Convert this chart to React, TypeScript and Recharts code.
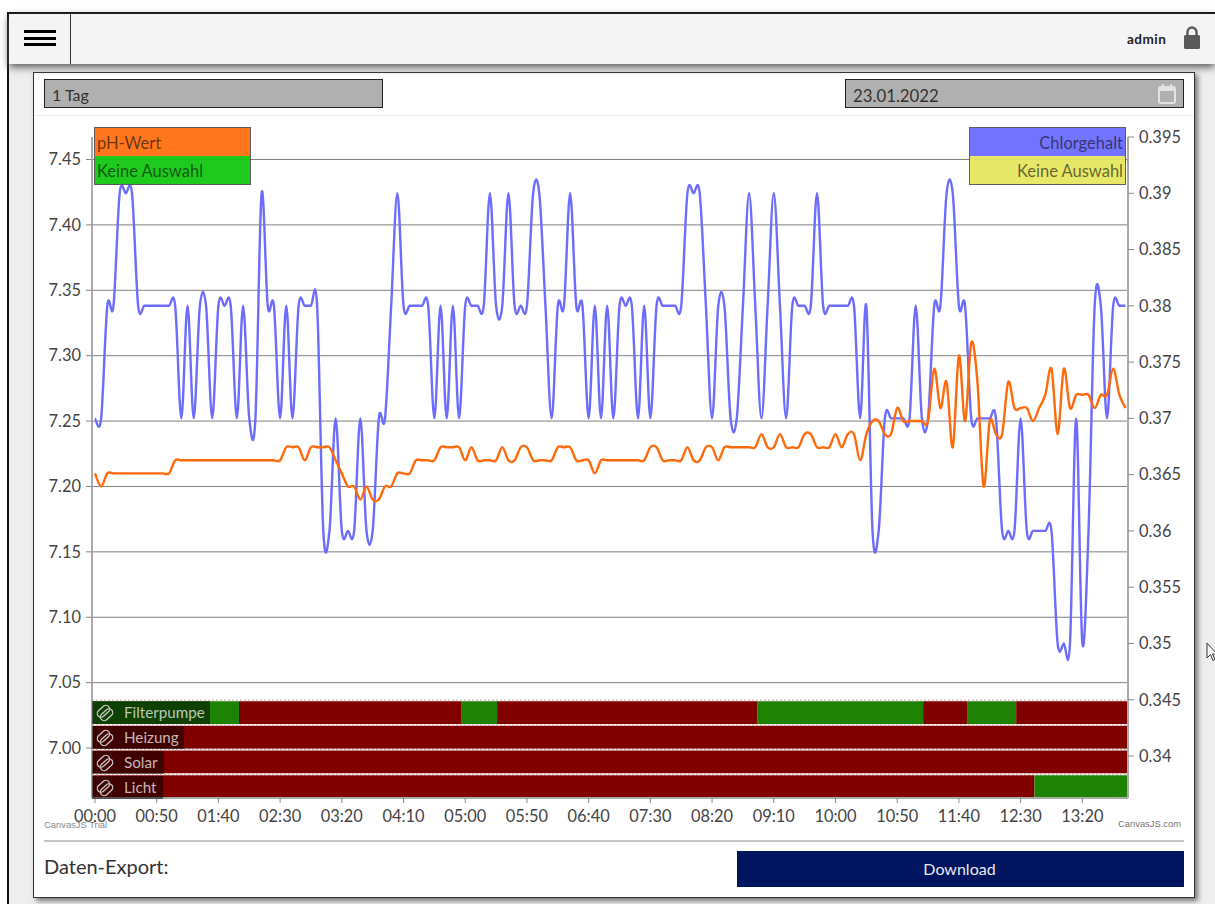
import React from "react";
import {
  ComposedChart,
  Line,
  XAxis,
  YAxis,
  CartesianGrid,
  ReferenceArea,
  ReferenceLine,
} from "recharts";

// readings every 5 minutes, 20 per row
const chlorValues = [
  0.37, 0.37, 0.38, 0.38, 0.39, 0.39, 0.39, 0.38, 0.38, 0.38, 0.38, 0.38, 0.38, 0.38, 0.37, 0.38, 0.37, 0.38, 0.38, 0.37,
  0.38, 0.38, 0.38, 0.37, 0.38, 0.37, 0.37, 0.39, 0.38, 0.38, 0.37, 0.38, 0.37, 0.38, 0.38, 0.38, 0.38, 0.36, 0.36, 0.37,
  0.36, 0.36, 0.36, 0.37, 0.36, 0.36, 0.37, 0.37, 0.38, 0.39, 0.38, 0.38, 0.38, 0.38, 0.38, 0.37, 0.38, 0.37, 0.38, 0.37,
  0.38, 0.38, 0.38, 0.38, 0.39, 0.38, 0.38, 0.39, 0.38, 0.38, 0.38, 0.39, 0.39, 0.38, 0.37, 0.38, 0.38, 0.39, 0.38, 0.38,
  0.37, 0.38, 0.37, 0.38, 0.37, 0.38, 0.38, 0.38, 0.37, 0.38, 0.37, 0.38, 0.38, 0.38, 0.38, 0.38, 0.39, 0.39, 0.39, 0.38,
  0.37, 0.38, 0.38, 0.37, 0.37, 0.38, 0.39, 0.38, 0.37, 0.38, 0.39, 0.38, 0.37, 0.38, 0.38, 0.38, 0.38, 0.39, 0.38, 0.38,
  0.38, 0.38, 0.38, 0.38, 0.37, 0.38, 0.36, 0.36, 0.37, 0.37, 0.37, 0.37, 0.37, 0.38, 0.37, 0.37, 0.38, 0.38, 0.39, 0.39,
  0.38, 0.38, 0.37, 0.37, 0.37, 0.37, 0.37, 0.36, 0.36, 0.36, 0.37, 0.36, 0.36, 0.36, 0.36, 0.36, 0.35, 0.35, 0.35, 0.37,
  0.35, 0.36, 0.38, 0.38, 0.37, 0.38, 0.38, 0.38,
];

const phValues = [
  7.21, 7.2, 7.21, 7.21, 7.21, 7.21, 7.21, 7.21, 7.21, 7.21, 7.21, 7.21, 7.21, 7.22, 7.22, 7.22, 7.22, 7.22, 7.22, 7.22,
  7.22, 7.22, 7.22, 7.22, 7.22, 7.22, 7.22, 7.22, 7.22, 7.22, 7.22, 7.23, 7.23, 7.23, 7.22, 7.23, 7.23, 7.23, 7.23, 7.22,
  7.21, 7.2, 7.2, 7.19, 7.2, 7.19, 7.19, 7.2, 7.2, 7.21, 7.21, 7.21, 7.22, 7.22, 7.22, 7.22, 7.23, 7.23, 7.23, 7.23,
  7.22, 7.23, 7.22, 7.22, 7.22, 7.22, 7.23, 7.22, 7.22, 7.23, 7.23, 7.22, 7.22, 7.22, 7.22, 7.23, 7.23, 7.23, 7.22, 7.22,
  7.22, 7.21, 7.22, 7.22, 7.22, 7.22, 7.22, 7.22, 7.22, 7.22, 7.23, 7.23, 7.22, 7.22, 7.22, 7.22, 7.23, 7.22, 7.22, 7.23,
  7.23, 7.22, 7.23, 7.23, 7.23, 7.23, 7.23, 7.23, 7.24, 7.23, 7.23, 7.24, 7.23, 7.23, 7.23, 7.24, 7.24, 7.23, 7.23, 7.23,
  7.24, 7.23, 7.24, 7.24, 7.22, 7.24, 7.25, 7.25, 7.24, 7.24, 7.26, 7.25, 7.25, 7.25, 7.25, 7.25, 7.29, 7.26, 7.28, 7.23,
  7.3, 7.25, 7.31, 7.28, 7.2, 7.25, 7.24, 7.24, 7.28, 7.26, 7.26, 7.26, 7.25, 7.26, 7.27, 7.29, 7.24, 7.29, 7.26, 7.27,
  7.27, 7.27, 7.26, 7.27, 7.27, 7.29, 7.27, 7.26,
];

const xTicks = [0, 50, 100, 150, 200, 250, 300, 350, 400, 450, 500, 550, 600, 650, 700, 750, 800];
const phTicks = [7.0, 7.05, 7.1, 7.15, 7.2, 7.25, 7.3, 7.35, 7.4, 7.45];
const chlorTicks = [0.34, 0.345, 0.35, 0.355, 0.36, 0.365, 0.37, 0.375, 0.38, 0.385, 0.39, 0.395];

const X_DOMAIN = [-2.4, 837];

// switch states, top row first: [from, to, on] in minutes
const statusRows = [
  {
    name: "Filterpumpe",
    labelWidth: 118,
    segments: [
      [-2.4, 116.7, true],
      [116.7, 296.6, false],
      [296.6, 325.8, true],
      [325.8, 536.5, false],
      [536.5, 671, true],
      [671, 706.6, false],
      [706.6, 746.4, true],
      [746.4, 837, false],
    ],
  },
  { name: "Heizung", labelWidth: 92, segments: [[-2.4, 837, false]] },
  { name: "Solar", labelWidth: 71.5, segments: [[-2.4, 837, false]] },
  {
    name: "Licht",
    labelWidth: 70.5,
    segments: [
      [-2.4, 761.2, false],
      [761.2, 837, true],
    ],
  },
];

const chartData = chlorValues.map((chlor, i) => ({
  minute: i * 5,
  chlor,
  ph: phValues[i],
}));

const formatMinute = (m: number) => {
  const h = String(Math.floor(m / 60)).padStart(2, "0");
  const min = String(m % 60).padStart(2, "0");
  return `${h}:${min}`;
};

// same spline the original chart lib uses (catmull-rom through the samples)
const splineCurve = (ctx: any) => {
  let pts: number[][] = [];
  return {
    areaStart() {},
    areaEnd() {},
    lineStart() {
      pts = [];
    },
    point(x: number, y: number) {
      pts.push([+x, +y]);
    },
    lineEnd() {
      if (!pts.length) return;
      ctx.moveTo(pts[0][0], pts[0][1]);
      for (let i = 0; i < pts.length - 1; i++) {
        const p0 = pts[Math.max(i - 1, 0)];
        const p1 = pts[i];
        const p2 = pts[i + 1];
        const p3 = pts[Math.min(i + 2, pts.length - 1)];
        ctx.bezierCurveTo(
          p1[0] + (p2[0] - p0[0]) / 6,
          p1[1] + (p2[1] - p0[1]) / 6,
          p2[0] - (p3[0] - p1[0]) / 6,
          p2[1] - (p3[1] - p1[1]) / 6,
          p2[0],
          p2[1],
        );
      }
    },
  };
};

const tickStyle = { fill: "#444", fontFamily: "Lato", fontSize: 16.4 };
const axisLine = { stroke: "#aaa", strokeWidth: 2 };
const tickLine = { stroke: "#888" };

const box = (
  left: number,
  top: number,
  width: number,
  height: number,
  extra: React.CSSProperties = {},
): React.CSSProperties => ({
  position: "absolute",
  left,
  top,
  width,
  height,
  boxSizing: "border-box",
  ...extra,
});

function LegendBox({ left, align, rows }: any) {
  return (
    <div style={box(left, 127, 157, 58, { border: "1px solid #555", opacity: 0.95 })}>
      {rows.map((r: any) => (
        <div
          key={r.color}
          style={{
            height: 28,
            background: r.color,
            color: "rgba(0,0,0,0.62)",
            fontSize: 16.5,
            lineHeight: "30px",
            textAlign: align,
            padding: "0 2px",
          }}
        >
          {r.label}
        </div>
      ))}
    </div>
  );
}

function ChainIcon() {
  return (
    <svg width="18" height="18" viewBox="0 0 18 18" style={{ position: "absolute", left: 4, top: 2.5 }}>
      <g fill="none" stroke="#c8c8c8" strokeWidth="1.3" transform="rotate(-42 9 9)">
        <rect x="2" y="3" width="14" height="7.4" rx="3.7" />
        <rect x="2" y="7.6" width="14" height="7.4" rx="3.7" />
      </g>
    </svg>
  );
}

export default function App() {
  return (
    <div
      style={{
        position: "absolute",
        left: 0,
        top: 0,
        width: 1215,
        height: 904,
        overflow: "hidden",
        background: "#fff",
        fontFamily: "Lato",
        color: "#333",
      }}
    >
      {/* page frame and header */}
      <div style={box(7, 12, 1220, 900, { border: "2px solid #111", background: "#eee" })} />
      <div
        style={box(9, 14, 1206, 50, {
          background: "#f4f4f4",
          boxShadow: "0 3px 8px #555",
          zIndex: 2,
        })}
      >
        <div style={box(61, 0, 1, 50, { background: "#333" })} />
        {[16, 23, 29].map((t) => (
          <div key={t} style={box(15, t, 32, 3, { background: "#000" })} />
        ))}
        <div
          style={box(1118, 17, 50, 20, {
            fontSize: 13.5,
            fontWeight: 700,
            letterSpacing: 0.5,
            color: "#222",
          })}
        >
          admin
        </div>
        <svg width="16" height="23" viewBox="0 0 16 23" style={{ position: "absolute", left: 1175, top: 11.5 }}>
          <path d="M3.5 9V6a4.5 4.5 0 0 1 9 0v3" fill="none" stroke="#595959" strokeWidth="2.4" />
          <rect x="0" y="9" width="16" height="14" rx="1.5" fill="#595959" />
        </svg>
      </div>

      {/* card */}
      <div
        style={box(33, 72, 1162, 826, {
          background: "#fff",
          border: "1px solid #333",
          boxShadow: "3px 3px 5px #777",
        })}
      />
      <div style={box(34, 115, 1160, 1, { background: "#f0f0f0" })} />
      <div
        style={box(44, 79, 339, 29, {
          background: "#b0b0b0",
          border: "1px solid #222",
          fontSize: 16,
          lineHeight: "30px",
          paddingLeft: 7,
        })}
      >
        1 Tag
      </div>
      <div
        style={box(845, 79, 339, 29, {
          background: "#b0b0b0",
          border: "1px solid #222",
          fontSize: 16.8,
          lineHeight: "31px",
          paddingLeft: 7,
        })}
      >
        23.01.2022
        <svg width="18" height="20" viewBox="0 0 18 20" style={{ position: "absolute", right: 7, top: 4 }}>
          <rect x="1" y="3" width="16" height="16" rx="2" fill="none" stroke="#e2e2e2" strokeWidth="2" />
          <rect x="1" y="3" width="16" height="4" fill="#e2e2e2" />
          <rect x="4" y="0" width="2" height="4" fill="#e2e2e2" />
          <rect x="12" y="0" width="2" height="4" fill="#e2e2e2" />
        </svg>
      </div>

      {/* chart */}
      <div style={box(0, 0, 1215, 904)}>
        <ComposedChart
          width={1215}
          height={904}
          data={chartData}
          margin={{ top: 137, right: 27, bottom: 76, left: 32 }}
        >
          <XAxis
            dataKey="minute"
            type="number"
            domain={X_DOMAIN}
            allowDataOverflow
            ticks={xTicks}
            tickFormatter={formatMinute}
            interval={0}
            height={30}
            tick={tickStyle}
            tickLine={tickLine}
            tickSize={5}
            tickMargin={7}
            axisLine={axisLine}
          />
          <YAxis
            yAxisId="ph"
            orientation="left"
            type="number"
            width={60}
            domain={[6.9618, 7.4672]}
            allowDataOverflow
            ticks={phTicks}
            interval={0}
            tickFormatter={(v: number) => v.toFixed(2)}
            tick={tickStyle}
            tickLine={tickLine}
            tickSize={6}
            tickMargin={5}
            axisLine={axisLine}
          />
          <YAxis
            yAxisId="chlor"
            orientation="right"
            type="number"
            width={60}
            domain={[0.33627, 0.395]}
            allowDataOverflow
            ticks={chlorTicks}
            interval={0}
            tickFormatter={(v: number) => String(v)}
            tick={tickStyle}
            tickLine={tickLine}
            tickSize={6}
            tickMargin={5}
            axisLine={axisLine}
          />
          <YAxis yAxisId="status" hide type="number" domain={[0, 26.76]} allowDataOverflow />
          <CartesianGrid
            yAxisId="ph"
            vertical={false}
            horizontalValues={phTicks}
            stroke="#808080"
            strokeWidth={1}
          />
          {statusRows.map((row, r) =>
            row.segments.map((seg: any) => (
              <ReferenceArea
                key={`${row.name}-${seg[0]}`}
                yAxisId="status"
                x1={seg[0]}
                x2={seg[1]}
                y1={statusRows.length - 1 - r}
                y2={statusRows.length - 1 - r + 0.92}
                fill={seg[2] ? "#1e8205" : "#800000"}
                fillOpacity={1}
                stroke="none"
                ifOverflow="hidden"
              />
            )),
          )}
          {statusRows.map((row, r) => (
            <ReferenceLine
              key={`sep-${row.name}`}
              yAxisId="status"
              y={statusRows.length - 1 - r + 0.96}
              stroke="#d8a8a8"
              strokeDasharray="2 2"
              ifOverflow="hidden"
            />
          ))}
          <Line
            yAxisId="chlor"
            dataKey="chlor"
            type={splineCurve as any}
            stroke="#6c6cff"
            strokeWidth={2.4}
            dot={false}
            isAnimationActive={false}
          />
          <Line
            yAxisId="ph"
            dataKey="ph"
            type={splineCurve as any}
            stroke="#ff6a0a"
            strokeWidth={2.4}
            dot={false}
            isAnimationActive={false}
          />
        </ComposedChart>
      </div>

      {/* series selectors */}
      <LegendBox
        left={94}
        align="left"
        rows={[
          { label: "pH-Wert", color: "#ff6f10" },
          { label: "Keine Auswahl", color: "#12c812" },
        ]}
      />
      <LegendBox
        left={969}
        align="right"
        rows={[
          { label: "Chlorgehalt", color: "#6c6cff" },
          { label: "Keine Auswahl", color: "#e6e660" },
        ]}
      />

      {/* switch labels over the status rows */}
      {statusRows.map((row, r) => (
        <div
          key={row.name}
          style={box(92, 701 + r * 25, row.labelWidth, 23, {
            background: "rgba(0,0,0,0.5)",
            color: "rgba(255,255,255,0.72)",
            fontSize: 15.2,
            lineHeight: "23px",
            paddingLeft: 32,
            whiteSpace: "nowrap",
          })}
        >
          <ChainIcon />
          {row.name}
        </div>
      ))}

      <div style={box(44, 819, 80, 13, { fontSize: 9.4, color: "#888", fontFamily: "Liberation Sans" })}>
        CanvasJS Trial
      </div>
      <div style={box(1118, 818, 70, 13, { fontSize: 9.4, color: "#777", fontFamily: "Liberation Sans" })}>
        CanvasJS.com
      </div>

      {/* export row */}
      <div style={box(44, 840, 1140, 2, { background: "#c4c4c4" })} />
      <div style={box(44, 853, 200, 26, { fontSize: 20, lineHeight: "26px", color: "#333" })}>
        Daten-Export:
      </div>
      <div
        style={box(737, 851, 447, 36, {
          background: "#001560",
          color: "#e8e8f0",
          fontSize: 16,
          lineHeight: "36px",
          textAlign: "center",
          paddingRight: 2,
        })}
      >
        Download
      </div>

      {/* mouse pointer from the screenshot */}
      <svg width="12" height="20" viewBox="0 0 12 20" style={{ position: "absolute", left: 1206, top: 642 }}>
        <path d="M1 1v15l3.5-3.5 2.5 6 2-1-2.5-5.5H11z" fill="#fff" stroke="#333" strokeWidth="1" />
      </svg>
    </div>
  );
}
